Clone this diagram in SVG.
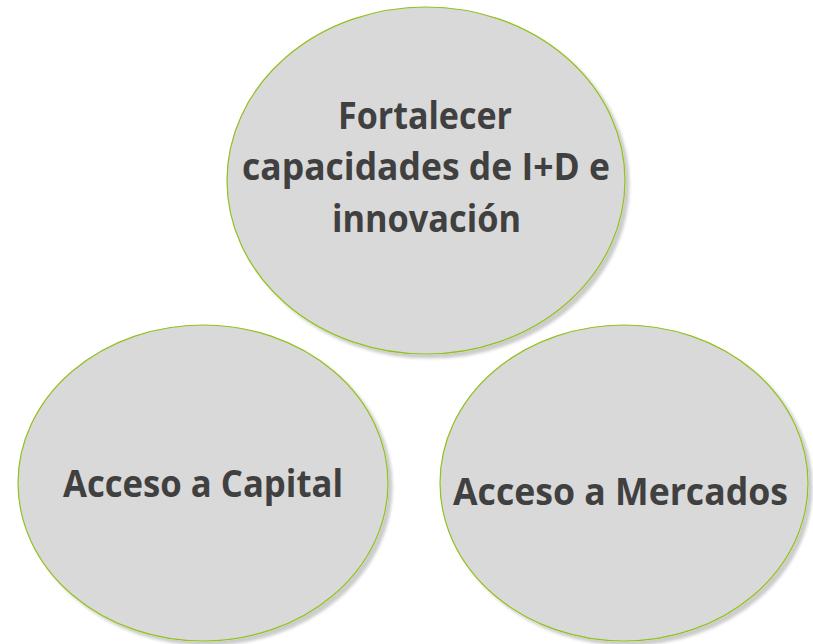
<svg xmlns="http://www.w3.org/2000/svg" width="813" height="644" viewBox="0 0 813 644">
<defs>
<filter id="sh" x="-10%" y="-10%" width="125%" height="125%">
<feGaussianBlur in="SourceAlpha" stdDeviation="1.5"/>
<feOffset dx="4" dy="4" result="o"/>
<feFlood flood-color="#000" flood-opacity="0.2"/>
<feComposite in2="o" operator="in" result="s"/>
<feMerge><feMergeNode in="s"/><feMergeNode in="SourceGraphic"/></feMerge>
</filter>
<style>
.node ellipse{fill:#d9d9d9;stroke:#92c01f;stroke-width:1.2;filter:url(#sh)}
.node text{font-family:"Open Sans","Noto Sans","Liberation Sans",sans-serif;font-weight:bold;font-size:38px;fill:#404040;text-anchor:middle}
</style>
</defs>
<rect width="813" height="644" fill="#fff"/>
<g id="connectors"></g>
<g id="node-id" class="node">
<ellipse cx="426" cy="180.5" rx="199" ry="173.5"/>
<text x="425" y="129" textLength="174" lengthAdjust="spacingAndGlyphs">Fortalecer</text>
<text x="426" y="180" textLength="368" lengthAdjust="spacingAndGlyphs">capacidades de I+D e</text>
<text x="426.5" y="232" textLength="189" lengthAdjust="spacingAndGlyphs">innovación</text>
</g>
<g id="node-capital" class="node">
<ellipse cx="203" cy="483" rx="185" ry="158"/>
<text x="203" y="497" textLength="280" lengthAdjust="spacingAndGlyphs">Acceso a Capital</text>
</g>
<g id="node-mercados" class="node">
<ellipse cx="624" cy="483" rx="184" ry="158"/>
<text x="620.5" y="505" textLength="335" lengthAdjust="spacingAndGlyphs">Acceso a Mercados</text>
</g>
</svg>
